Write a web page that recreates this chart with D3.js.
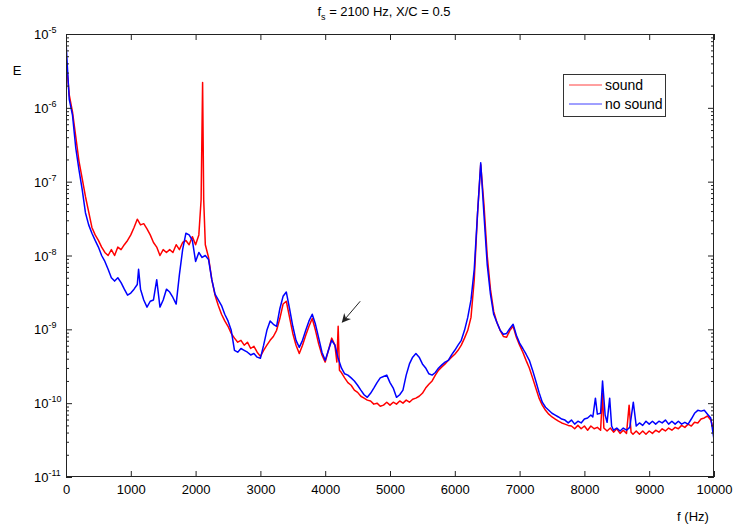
<!DOCTYPE html>
<html>
<head>
<meta charset="utf-8">
<script src="https://cdn.jsdelivr.net/npm/d3@7"></script>
<style>
  body { margin: 0; background: #fff; }
  text { font-family: "Liberation Sans", Arial, Helvetica, sans-serif; fill: #000; }
</style>
</head>
<body>
<svg id="chart" width="734" height="531"></svg>
<script>
// ---------------- DATA ----------------
const titleMain = "f";
const titleSub = "s";
const titleRest = " = 2100 Hz, X/C = 0.5";
const xLabel = "f (Hz)";
const yLabel = "E";
const xTicks = [0, 1000, 2000, 3000, 4000, 5000, 6000, 7000, 8000, 9000, 10000];
const yTickExponents = [-5, -6, -7, -8, -9, -10, -11];
const seriesNames = ["sound", "no sound"];
const seriesColors = ["#ff0000", "#0000ff"];

// [frequency (Hz), E]
const soundSpectrum = [[0,4.7e-6],[50,1.5e-6],[100,8.8e-7],[150,4.1e-7],[200,1.9e-7],[250,1.1e-7],[300,6.3e-8],[350,3.9e-8],[400,2.4e-8],[450,1.9e-8],[500,1.6e-8],[550,1.3e-8],[600,1.1e-8],[650,1.0e-8],[700,1.2e-8],[750,1.0e-8],[800,1.3e-8],[850,1.2e-8],[900,1.4e-8],[950,1.6e-8],[1000,1.9e-8],[1050,2.4e-8],[1100,3.1e-8],[1150,2.6e-8],[1200,2.7e-8],[1250,2.3e-8],[1300,1.9e-8],[1350,1.5e-8],[1400,1.3e-8],[1450,1.0e-8],[1500,1.2e-8],[1550,1.1e-8],[1600,1.2e-8],[1650,1.1e-8],[1700,1.4e-8],[1750,1.2e-8],[1800,1.5e-8],[1850,1.6e-8],[1900,1.4e-8],[1950,1.8e-8],[2000,1.4e-8],[2050,1.9e-8],[2085,5.7e-8],[2108,2.2e-6],[2125,5.7e-8],[2150,1.4e-8],[2200,9.4e-9],[2250,4.7e-9],[2300,2.9e-9],[2350,2.1e-9],[2400,1.6e-9],[2450,1.3e-9],[2500,1.1e-9],[2550,8.8e-10],[2600,7.6e-10],[2650,6.7e-10],[2700,7.1e-10],[2750,6.1e-10],[2800,6.7e-10],[2850,5.5e-10],[2900,5.9e-10],[2950,4.9e-10],[3000,4.3e-10],[3050,5.2e-10],[3100,6.1e-10],[3150,7.1e-10],[3200,8.0e-10],[3250,9.7e-10],[3300,1.4e-9],[3350,2.2e-9],[3400,2.4e-9],[3450,1.45e-9],[3500,8.8e-10],[3550,6.1e-10],[3600,4.7e-10],[3650,6.1e-10],[3700,8.3e-10],[3750,1.1e-9],[3800,1.4e-9],[3850,9.7e-10],[3900,6.3e-10],[3950,4.5e-10],[4000,3.6e-10],[4050,5.2e-10],[4100,7.6e-10],[4150,6.1e-10],[4180,3.6e-10],[4200,1.1e-9],[4220,2.8e-10],[4250,2.6e-10],[4300,2.2e-10],[4350,1.9e-10],[4400,1.75e-10],[4450,1.5e-10],[4500,1.4e-10],[4550,1.24e-10],[4600,1.17e-10],[4650,1.1e-10],[4700,1.07e-10],[4750,9.7e-11],[4800,1.0e-10],[4850,9.1e-11],[4900,9.4e-11],[4950,1.03e-10],[5000,9.4e-11],[5050,1.03e-10],[5100,9.7e-11],[5150,1.07e-10],[5200,1.0e-10],[5250,1.1e-10],[5300,1.03e-10],[5350,1.13e-10],[5400,1.17e-10],[5450,1.24e-10],[5500,1.36e-10],[5550,1.6e-10],[5600,1.8e-10],[5650,2.0e-10],[5700,2.4e-10],[5750,2.8e-10],[5800,3.1e-10],[5850,3.4e-10],[5900,3.8e-10],[5950,4.2e-10],[6000,4.6e-10],[6050,5.2e-10],[6100,6.1e-10],[6150,7.6e-10],[6200,9.7e-10],[6250,1.45e-9],[6300,4.7e-9],[6350,3.6e-8],[6400,1.7e-7],[6450,4.9e-8],[6500,1.0e-8],[6550,3.5e-9],[6600,1.75e-9],[6650,1.24e-9],[6700,9.7e-10],[6750,8.0e-10],[6800,7.8e-10],[6850,9.7e-10],[6900,1.1e-9],[6950,7.8e-10],[7000,6.1e-10],[7050,4.9e-10],[7100,3.8e-10],[7150,3.0e-10],[7200,2.2e-10],[7250,1.6e-10],[7300,1.17e-10],[7350,9.4e-11],[7400,8.0e-11],[7450,7.1e-11],[7500,6.5e-11],[7550,6.1e-11],[7600,5.7e-11],[7650,5.4e-11],[7700,5.2e-11],[7750,5.0e-11],[7800,4.9e-11],[7850,4.5e-11],[7900,5.0e-11],[7950,4.5e-11],[8000,4.9e-11],[8050,4.3e-11],[8100,4.9e-11],[8150,4.5e-11],[8200,4.7e-11],[8250,4.3e-11],[8280,1.36e-10],[8300,4.6e-11],[8350,4.2e-11],[8400,4.6e-11],[8450,4.05e-11],[8500,4.5e-11],[8550,3.9e-11],[8600,4.3e-11],[8650,3.9e-11],[8690,9.4e-11],[8720,4.05e-11],[8750,3.8e-11],[8800,4.2e-11],[8850,3.8e-11],[8900,4.2e-11],[8950,3.8e-11],[9000,4.2e-11],[9050,3.9e-11],[9100,4.3e-11],[9150,4.05e-11],[9200,4.5e-11],[9250,4.2e-11],[9300,4.6e-11],[9350,4.3e-11],[9400,4.7e-11],[9450,4.5e-11],[9500,5.0e-11],[9550,4.7e-11],[9600,5.2e-11],[9650,4.9e-11],[9700,5.5e-11],[9750,5.4e-11],[9800,6.1e-11],[9850,6.3e-11],[9900,6.7e-11],[9950,5.9e-11],[10000,4.3e-11]];

const noSoundSpectrum = [[0,7.8e-6],[50,1.3e-6],[100,8.0e-7],[150,2.9e-7],[200,1.45e-7],[250,7.8e-8],[300,3.8e-8],[350,2.6e-8],[400,2.0e-8],[450,1.6e-8],[500,1.3e-8],[550,1.0e-8],[600,8.3e-9],[650,6.5e-9],[700,5.0e-9],[750,4.5e-9],[800,5.0e-9],[850,4.3e-9],[900,3.5e-9],[950,2.9e-9],[1000,3.1e-9],[1050,3.5e-9],[1100,4.05e-9],[1120,6.5e-9],[1150,3.5e-9],[1200,2.5e-9],[1250,2.0e-9],[1300,2.4e-9],[1350,2.5e-9],[1400,4.7e-9],[1450,2.0e-9],[1500,2.5e-9],[1550,3.5e-9],[1600,3.2e-9],[1650,2.7e-9],[1700,2.2e-9],[1750,5.5e-9],[1800,1.2e-8],[1850,2.0e-8],[1900,1.9e-8],[1950,1.6e-8],[2000,8.3e-9],[2050,1.1e-8],[2100,9.4e-9],[2150,1.0e-8],[2200,8.8e-9],[2250,4.7e-9],[2300,3.0e-9],[2350,2.5e-9],[2400,2.1e-9],[2450,1.6e-9],[2500,1.3e-9],[2550,9.7e-10],[2600,5.2e-10],[2650,4.9e-10],[2700,5.5e-10],[2750,5.2e-10],[2800,4.9e-10],[2850,4.5e-10],[2900,4.7e-10],[2950,4.2e-10],[3000,4.05e-10],[3050,6.1e-10],[3100,9.7e-10],[3150,1.3e-9],[3200,1.17e-9],[3250,1.1e-9],[3300,1.9e-9],[3350,2.8e-9],[3400,3.2e-9],[3450,1.9e-9],[3500,1.1e-9],[3550,7.1e-10],[3600,5.7e-10],[3650,7.1e-10],[3700,9.7e-10],[3750,1.3e-9],[3800,1.6e-9],[3850,1.17e-9],[3900,7.6e-10],[3950,4.9e-10],[4000,3.8e-10],[4050,5.2e-10],[4100,7.1e-10],[4150,6.1e-10],[4200,4.05e-10],[4250,3.0e-10],[4300,2.5e-10],[4350,2.4e-10],[4400,2.2e-10],[4450,2.0e-10],[4500,1.75e-10],[4550,1.5e-10],[4600,1.3e-10],[4650,1.2e-10],[4700,1.36e-10],[4750,1.6e-10],[4800,1.9e-10],[4850,2.2e-10],[4900,2.3e-10],[4950,2.4e-10],[5000,1.9e-10],[5050,1.6e-10],[5100,1.2e-10],[5150,1.3e-10],[5200,1.5e-10],[5250,2.4e-10],[5300,3.4e-10],[5350,4.2e-10],[5400,4.7e-10],[5450,4.2e-10],[5500,3.4e-10],[5550,3.0e-10],[5600,2.5e-10],[5650,2.4e-10],[5700,2.6e-10],[5750,3.0e-10],[5800,3.3e-10],[5850,3.6e-10],[5900,3.8e-10],[5950,4.5e-10],[6000,5.2e-10],[6050,6.1e-10],[6100,7.1e-10],[6150,9.7e-10],[6200,1.45e-9],[6250,2.5e-9],[6300,6.5e-9],[6350,3.6e-8],[6400,1.8e-7],[6450,3.6e-8],[6500,7.6e-9],[6550,3.0e-9],[6600,1.6e-9],[6650,1.24e-9],[6700,9.7e-10],[6750,8.6e-10],[6800,8.8e-10],[6850,1.03e-9],[6900,1.17e-9],[6950,8.3e-10],[7000,6.5e-10],[7050,5.5e-10],[7100,4.6e-10],[7150,3.8e-10],[7200,2.8e-10],[7250,2.0e-10],[7300,1.4e-10],[7350,1.03e-10],[7400,8.8e-11],[7450,8.0e-11],[7500,7.3e-11],[7550,6.9e-11],[7600,6.5e-11],[7650,6.1e-11],[7700,5.9e-11],[7750,5.4e-11],[7800,5.9e-11],[7850,5.2e-11],[7900,5.7e-11],[7950,5.4e-11],[8000,6.1e-11],[8050,6.3e-11],[8100,6.9e-11],[8130,6.5e-11],[8170,1.17e-10],[8200,7.1e-11],[8250,7.3e-11],[8280,2.0e-10],[8320,6.9e-11],[8350,5.5e-11],[8390,1.17e-10],[8420,4.9e-11],[8450,4.3e-11],[8500,4.6e-11],[8550,4.2e-11],[8600,4.6e-11],[8650,4.3e-11],[8700,4.7e-11],[8755,1.03e-10],[8800,4.9e-11],[8850,5.4e-11],[8900,5.0e-11],[8950,5.7e-11],[9000,5.2e-11],[9050,5.7e-11],[9100,5.2e-11],[9150,5.7e-11],[9200,5.4e-11],[9250,5.9e-11],[9300,5.2e-11],[9350,5.7e-11],[9400,5.2e-11],[9450,5.7e-11],[9500,5.2e-11],[9550,5.5e-11],[9600,5.2e-11],[9650,6.1e-11],[9700,7.3e-11],[9750,8.0e-11],[9800,7.8e-11],[9850,8.0e-11],[9900,7.1e-11],[9950,6.3e-11],[10000,3.2e-11]];

// annotation arrow (data coordinates): tail -> tip
const arrowTail = [4540, 2.4e-9];
const arrowTip = [4265, 1.25e-9];

// ---------------- LAYOUT ----------------
const W = 734, H = 531;
const plot = { left: 66, right: 714, top: 34, bottom: 477 };

const svg = d3.select("#chart");
svg.append("rect").attr("width", W).attr("height", H).attr("fill", "#fff");

const x = d3.scaleLinear().domain([0, 10000]).range([plot.left, plot.right]);
const y = d3.scaleLog().domain([1e-11, 1e-5]).range([plot.bottom, plot.top]);

svg.append("defs").append("clipPath").attr("id", "clip")
  .append("rect").attr("x", plot.left).attr("y", plot.top)
  .attr("width", plot.right - plot.left).attr("height", plot.bottom - plot.top);

// ---------------- SERIES ----------------
const line = d3.line().x(d => x(d[0])).y(d => y(d[1]));
const seriesData = [soundSpectrum, noSoundSpectrum];
const lines = svg.append("g").attr("clip-path", "url(#clip)");
seriesData.forEach((s, i) => {
  lines.append("path").datum(s)
    .attr("d", line)
    .attr("fill", "none")
    .attr("stroke", seriesColors[i])
    .attr("stroke-width", 1.5)
    .attr("stroke-linejoin", "round");
});

// ---------------- AXES ----------------
const majorY = yTickExponents.map(e => Math.pow(10, e));
const minorY = [];
for (let e = -11; e < -5; e++) {
  for (let m = 2; m <= 9; m++) minorY.push(m * Math.pow(10, e));
}

const axisStyle = g => {
  g.select(".domain").remove();
  g.selectAll(".tick line").attr("stroke", "#222").attr("stroke-width", 1);
  g.selectAll("text").style("font-size", "13px").attr("fill", "#000");
};

svg.append("g").attr("transform", `translate(0,${plot.bottom})`)
  .call(d3.axisBottom(x).tickValues(xTicks).tickSizeInner(-6).tickSizeOuter(0).tickPadding(8).tickFormat(d3.format("d")))
  .call(axisStyle)
  .call(g => g.attr("font-family", null));

svg.append("g").attr("transform", `translate(0,${plot.top})`)
  .call(d3.axisTop(x).tickValues(xTicks).tickSizeInner(-6).tickSizeOuter(0).tickFormat(""))
  .call(axisStyle);

svg.append("g").attr("transform", `translate(${plot.left},0)`)
  .call(d3.axisLeft(y).tickValues(majorY).tickSizeInner(-6).tickSizeOuter(0).tickFormat(""))
  .call(axisStyle);
svg.append("g").attr("transform", `translate(${plot.left},0)`)
  .call(d3.axisLeft(y).tickValues(minorY).tickSizeInner(-3).tickSizeOuter(0).tickFormat(""))
  .call(axisStyle);
svg.append("g").attr("transform", `translate(${plot.right},0)`)
  .call(d3.axisRight(y).tickValues(majorY).tickSizeInner(-6).tickSizeOuter(0).tickFormat(""))
  .call(axisStyle);
svg.append("g").attr("transform", `translate(${plot.right},0)`)
  .call(d3.axisRight(y).tickValues(minorY).tickSizeInner(-3).tickSizeOuter(0).tickFormat(""))
  .call(axisStyle);

// y tick labels: 10^e
const yl = svg.append("g");
yTickExponents.forEach(e => {
  const t = yl.append("text")
    .attr("x", 34)
    .attr("y", y(Math.pow(10, e)) + 5)
    .style("font-size", "13px");
  t.append("tspan").text("10");
  t.append("tspan").attr("dy", -6).style("font-size", "9px").text(String(e));
});

// frame
svg.append("rect")
  .attr("x", plot.left + 0.5).attr("y", plot.top + 0.5)
  .attr("width", plot.right - plot.left - 1).attr("height", plot.bottom - plot.top - 1)
  .attr("fill", "none").attr("stroke", "#222").attr("stroke-width", 1);

// ---------------- TITLE & LABELS ----------------
const title = svg.append("text")
  .attr("x", 384).attr("y", 16)
  .attr("text-anchor", "middle")
  .style("font-size", "13px");
title.append("tspan").text(titleMain);
title.append("tspan").attr("dy", 4).style("font-size", "9px").text(titleSub);
title.append("tspan").attr("dy", -4).text(titleRest);

svg.append("text").attr("x", 693).attr("y", 521)
  .attr("text-anchor", "middle").style("font-size", "13px").text(xLabel);

svg.append("text").attr("x", 17).attr("y", 75)
  .attr("text-anchor", "middle").style("font-size", "13px").text(yLabel);

// ---------------- LEGEND ----------------
const lg = svg.append("g");
lg.append("rect").attr("x", 563.5).attr("y", 74.5).attr("width", 102).attr("height", 42)
  .attr("fill", "#fff").attr("stroke", "#333").attr("stroke-width", 1);
seriesNames.forEach((n, i) => {
  const yy = 85 + i * 19;
  lg.append("line").attr("x1", 569).attr("x2", 602).attr("y1", yy).attr("y2", yy)
    .attr("stroke", seriesColors[i]).attr("stroke-width", 1).attr("stroke-opacity", 0.75);
  lg.append("text").attr("x", 605).attr("y", yy + 5)
    .style("font-size", "14px").text(n);
});

// ---------------- ARROW ----------------
svg.select("defs").append("marker")
  .attr("id", "arrowhead").attr("viewBox", "0 0 10 10")
  .attr("refX", 9).attr("refY", 5)
  .attr("markerWidth", 9).attr("markerHeight", 9)
  .attr("markerUnits", "userSpaceOnUse")
  .attr("orient", "auto")
  .append("path").attr("d", "M0,0 L10,5 L0,10 L3,5 Z").attr("fill", "#222");

svg.append("line")
  .attr("x1", x(arrowTail[0])).attr("y1", y(arrowTail[1]))
  .attr("x2", x(arrowTip[0])).attr("y2", y(arrowTip[1]))
  .attr("stroke", "#222").attr("stroke-width", 1)
  .attr("marker-end", "url(#arrowhead)");
</script>
</body>
</html>
